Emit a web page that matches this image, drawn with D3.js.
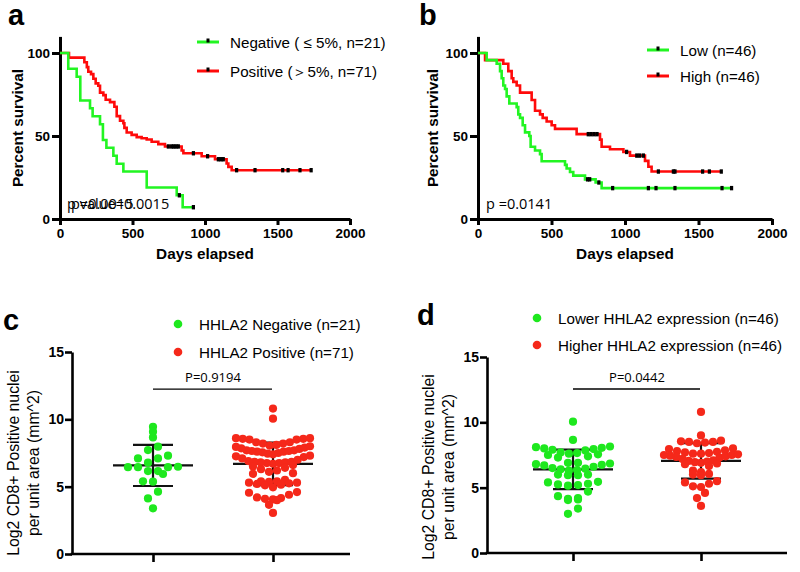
<!DOCTYPE html>
<html><head><meta charset="utf-8">
<script src="https://cdn.jsdelivr.net/npm/d3@7"></script>
<style>body{margin:0;background:#fff} svg{display:block}</style>
</head><body><svg id="c" width="800" height="572"></svg>
<script>
// ---------- data ----------
const dayTicks = [0, 500, 1000, 1500, 2000];
const survTicks = [0, 50, 100];
const cd8Ticks = [0, 5, 10, 15];

const kmLegendA = ["Negative ( \u2264 5%, n=21)", "Positive (\uFF1E5%, n=71)"];
const kmLegendB = ["Low (n=46)", "High (n=46)"];
const pTextA = ["p value=0.0015", "p=0.0015"];
const pTextB = ["p =0.0141"];

// [day, survival % after event]
const aNegSteps = [[0,100],[57,90.5],[115,85.7],[140,71.4],[207,66.7],[225,61.9],[276,57.1],[296,47.6],[320,42.9],[368,38.1],[391,33.3],[437,28.6],[598,19.0],[805,14.3],[846,7.1]];
const aNegCensor = [[823,14.3],[920,7.1]];
const aPosSteps = [[0,100],[62,97.2],[168,94.4],[185,91.5],[195,88.7],[214,87.3],[230,84.5],[246,81.7],[264,80.3],[276,76.1],[299,74.6],[315,71.8],[345,70.4],[375,67.6],[391,62.0],[414,59.2],[437,57.7],[444,54.9],[460,52.1],[494,50.7],[529,49.3],[563,48.6],[598,47.9],[632,46.5],[678,45.1],[724,43.7],[839,41.3],[851,39.6],[977,37.8],[1069,36.0],[1149,33.4],[1161,31.4],[1184,29.4]];
const aPosCensor = [[747,43.7],[770,43.7],[785,43.7],[800,43.7],[816,43.7],[920,39.6],[1018,37.8],[1092,36.0],[1110,36.0],[1126,36.0],[1218,29.4],[1345,29.4],[1536,29.4],[1573,29.4],[1655,29.4],[1732,29.4]];

const bLowSteps = [[0,100],[59,95.7],[127,93.5],[150,89.1],[161,84.8],[172,80.4],[184,78.3],[195,73.9],[213,69.6],[263,67.4],[274,63.0],[286,60.9],[304,56.5],[320,52.2],[349,50.0],[358,43.5],[388,41.3],[422,39.1],[433,34.8],[592,32.6],[603,30.4],[626,28.3],[648,26.1],[728,23.9],[800,22.0],[841,18.6]];
const bLowCensor = [[745,23.9],[760,23.9],[822,22.0],[916,18.6],[1159,18.6],[1211,18.6],[1340,18.6],[1660,18.6],[1725,18.6]];
const bHighSteps = [[0,100],[48,95.7],[172,93.5],[206,89.1],[229,84.8],[240,82.6],[263,80.4],[286,76.1],[365,71.7],[388,65.2],[422,63.0],[440,60.9],[467,58.7],[501,56.5],[524,54.3],[671,51.1],[830,47.8],[841,43.5],[898,42.0],[989,40.4],[1034,38.2],[1136,35.0],[1159,31.5],[1181,28.6]];
const bHighCensor = [[750,51.1],[770,51.1],[790,51.1],[810,51.1],[1011,40.4],[1080,38.2],[1100,38.2],[1125,38.2],[1227,28.6],[1329,28.6],[1340,28.6],[1528,28.6],[1574,28.6],[1655,28.6]];

// CD8 log2 values
const cCats = ["HHLA2 Negative (n=21)", "HHLA2 Positive (n=71)"];
const cNeg = [9.45,8.66,9.08,7.72,7.97,7.1,7.1,7.3,6.48,6.45,6.16,5.94,6.16,6.45,6.45,6.78,5.37,5.4,4.63,4.13,3.39];
const cPos = [10.8,10.05,8.6,8.6,8.55,8.55,8.5,8.5,8.3,8.3,8.2,8.2,8.05,8.0,7.95,7.9,7.85,8.1,7.8,
  7.7,7.7,7.65,7.65,7.6,7.6,7.55,7.5,7.45,7.4,7.3,7.25,7.2,7.1,7.0,
  6.9,6.85,6.85,6.8,6.8,6.75,6.75,6.7,6.6,6.5,6.4,6.3,6.2,6.1,6.0,5.95,
  5.5,5.4,5.4,5.35,5.3,5.3,5.25,5.2,5.15,5.1,4.95,
  4.6,4.55,4.4,4.2,4.15,4.1,4.05,4.0,3.65,3.05];
const pTextC = "P=0.9194";

const dCats = ["Lower HHLA2 expression (n=46)", "Higher HHLA2 expression (n=46)"];
const dLow = [10.05,8.65,8.15,8.1,8.05,8.0,7.95,7.9,7.85,7.7,7.65,7.6,7.55,7.5,7.4,7.3,
  6.9,6.9,6.85,6.8,6.75,6.7,6.6,6.5,6.45,6.4,6.35,6.3,6.0,5.95,5.95,6.0,
  5.45,5.4,5.3,5.25,5.2,5.15,4.7,4.35,4.2,4.15,4.1,4.05,3.4,3.0];
const dHigh = [10.8,9.0,8.6,8.55,8.5,8.5,8.45,8.4,8.0,7.95,7.85,7.8,7.75,7.7,7.65,7.6,7.6,7.55,
  7.5,7.5,7.45,7.4,7.35,7.3,7.2,7.1,7.05,7.0,6.95,6.9,6.85,6.8,6.65,
  6.3,6.2,6.05,6.0,5.95,5.5,5.4,5.3,5.1,5.05,4.6,4.2,3.6];
const pTextD = "P=0.0442";

// ---------- drawing ----------
const GREEN = "#22f522", RED = "#ff0a0a";
const DOT_G = "#1ee81e", DOT_R = "#f5281a";
const svg = d3.select("#c");
const SANS = "'Liberation Sans', Arial, sans-serif";
const PFONT = "'Open Sans', sans-serif";

function panelLabel(t, x, y) {
  svg.append("text").attr("x", x).attr("y", y).text(t)
    .attr("font-family", SANS).attr("font-weight", "bold").attr("font-size", 29);
}

function styleAxis(sel, w, fs) {
  sel.selectAll("path,line").attr("stroke", "#000").attr("stroke-width", w);
  sel.selectAll("text").attr("font-family", SANS).attr("font-weight", "bold")
    .attr("font-size", fs).attr("fill", "#000");
}

function drawKM(cfg) {
  const g = svg.append("g");
  const x = d3.scaleLinear().domain([0, 2000]).range([cfg.x0, cfg.x1]);
  const y = d3.scaleLinear().domain([0, 110]).range([219, 219 - 110 * 1.66]);
  const ax = g.append("g").attr("transform", "translate(0,219)")
    .call(d3.axisBottom(x).tickValues(dayTicks).tickSize(6).tickSizeOuter(0).tickPadding(3).tickFormat(d3.format("d")));
  styleAxis(ax, 3, 13.5);
  const ay = g.append("g").attr("transform", `translate(${cfg.x0},0)`)
    .call(d3.axisLeft(y).tickValues(survTicks).tickSize(8).tickSizeOuter(0).tickPadding(2));
  styleAxis(ay, 3, 13.5);

  const line = d3.line().x(d => x(d[0])).y(d => y(d[1])).curve(d3.curveStepAfter);
  // series[0] = green (legend first), series[1] = red; draw red underneath
  const drawOrder = [cfg.series[1], cfg.series[0]];
  drawOrder.forEach(s => {
    const end = d3.max(s.censor, d => d[0]);
    const pts = s.steps.concat([[end, s.steps[s.steps.length - 1][1]]]);
    g.append("path").attr("d", line(pts)).attr("fill", "none")
      .attr("stroke", s.color).attr("stroke-width", 2.6);
  });
  drawOrder.forEach(s => {
    g.selectAll(null).data(s.censor).join("rect")
      .attr("x", d => x(d[0]) - 1.6).attr("y", d => y(d[1]) - 2.2)
      .attr("width", 3.2).attr("height", 4.4).attr("fill", "#000");
  });
  // legend
  cfg.legend.forEach((t, i) => {
    const ly = cfg.legY[i];
    g.append("line").attr("x1", cfg.legX).attr("x2", cfg.legX + 22).attr("y1", ly).attr("y2", ly)
      .attr("stroke", cfg.series[i].color).attr("stroke-width", 3);
    g.append("rect").attr("x", cfg.legX + 9.5).attr("y", ly - 3.5).attr("width", 3).attr("height", 4).attr("fill", "#000");
    g.append("text").attr("x", cfg.legX + 33).attr("y", ly + 5.5).text(t)
      .attr("font-family", SANS).attr("font-size", 15.2);
  });
  g.append("text").attr("transform", `translate(${cfg.ylabX},128) rotate(-90)`)
    .attr("text-anchor", "middle").text("Percent survival")
    .attr("font-family", SANS).attr("font-weight", "bold").attr("font-size", 15.3);
  g.append("text").attr("x", x(1000)).attr("y", 259).attr("text-anchor", "middle").text("Days elapsed")
    .attr("font-family", SANS).attr("font-weight", "bold").attr("font-size", 15.3);
  cfg.ptexts.forEach((t, i) => {
    g.append("text").attr("x", cfg.pX + i * 4).attr("y", 209).text(t)
      .attr("font-family", PFONT).attr("font-size", 14.5);
  });
}

function swarm(vals, cx, y, r, half, binPx, maxSp) {
  const y0 = y.range()[0];
  const pts = vals.map(v => ({ v, py: y(v) }));
  const bins = d3.group(pts, p => Math.floor((y0 - p.py) / binPx));
  const out = [];
  for (const [, arr] of bins) {
    arr.sort((a, b) => a.v - b.v);
    const n = arr.length;
    const s = n > 1 ? Math.min(maxSp, 2 * half / (n - 1)) : 0;
    const slots = d3.range(n).map(i => (i - (n - 1) / 2) * s)
      .sort((a, b) => Math.abs(a) - Math.abs(b) || a - b);
    arr.forEach((p, i) => out.push({ v: p.v, px: cx + slots[i], py: p.py }));
  }
  return out;
}

function drawScatter(cfg) {
  const g = svg.append("g");
  const y = d3.scaleLinear().domain([0, 15]).range([cfg.yb, cfg.yt]);
  const x = d3.scalePoint().domain(cfg.cats).range([cfg.c0, cfg.c1]);
  const ay = g.append("g").attr("transform", `translate(${cfg.ax},0)`)
    .call(d3.axisLeft(y).tickValues(cd8Ticks).tickSize(7).tickSizeOuter(0).tickPadding(1));
  styleAxis(ay, 2.6, 14);
  const ax = g.append("g").attr("transform", `translate(0,${cfg.yb})`)
    .call(d3.axisBottom(x).tickSize(8).tickSizeOuter(0).tickFormat(""));
  ax.select(".domain").remove();
  styleAxis(ax, 2.6, 14);
  g.append("line").attr("x1", cfg.ax - 1.3).attr("x2", cfg.axEnd).attr("y1", cfg.yb).attr("y2", cfg.yb)
    .attr("stroke", "#000").attr("stroke-width", 2.6);

  const groups = [cfg.g1, cfg.g2];
  const cols = [DOT_G, DOT_R];
  groups.forEach((vals, i) => {
    const cx = x(cfg.cats[i]);
    const m = d3.mean(vals), sd = d3.deviation(vals);
    const eb = g.append("g").attr("stroke", "#111").attr("stroke-width", 2.2);
    eb.append("line").attr("x1", cx - 40).attr("x2", cx + 40).attr("y1", y(m)).attr("y2", y(m));
    eb.append("line").attr("x1", cx - 20).attr("x2", cx + 20).attr("y1", y(m + sd)).attr("y2", y(m + sd));
    eb.append("line").attr("x1", cx - 20).attr("x2", cx + 20).attr("y1", y(m - sd)).attr("y2", y(m - sd));
    eb.append("line").attr("x1", cx).attr("x2", cx).attr("y1", y(m - sd)).attr("y2", y(m + sd));
  });
  groups.forEach((vals, i) => {
    const cx = x(cfg.cats[i]);
    const pts = swarm(vals, cx, y, 4, 37, 9, i === 0 ? 10 : 8);
    g.selectAll(null).data(pts).join("circle")
      .attr("cx", d => d.px).attr("cy", d => d.py).attr("r", 4.1).attr("fill", cols[i]);
  });
  // significance bar
  const by = y(cfg.barV);
  g.append("line").attr("x1", x(cfg.cats[0])).attr("x2", x(cfg.cats[1]) - 1).attr("y1", by).attr("y2", by)
    .attr("stroke", "#000").attr("stroke-width", 1.3);
  g.append("text").attr("x", (x(cfg.cats[0]) + x(cfg.cats[1])) / 2).attr("y", by - 7)
    .attr("text-anchor", "middle").text(cfg.ptext).attr("font-family", PFONT).attr("font-size", 13);
  // legend
  cfg.cats.forEach((t, i) => {
    g.append("circle").attr("cx", cfg.legX).attr("cy", cfg.legY[i]).attr("r", 4.3).attr("fill", cols[i]);
    g.append("text").attr("x", cfg.legX + 21).attr("y", cfg.legY[i] + 6).text(t)
      .attr("font-family", SANS).attr("font-size", 15.2);
  });
  // y label
  const yl = g.append("text").attr("text-anchor", "middle")
    .attr("transform", `translate(${cfg.ylabX},${cfg.ylabY}) rotate(-90)`)
    .attr("font-family", SANS).attr("font-size", 15.8);
  yl.append("tspan").attr("x", 0).attr("y", 0).text("Log2 CD8+ Positive nuclei");
  yl.append("tspan").attr("x", 0).attr("y", 19.5).text("per unit area (mm^2)");
}

drawKM({
  x0: 60, x1: 350, ylabX: 23, pX: 67, ptexts: pTextA,
  legend: kmLegendA, legX: 197, legY: [42, 71],
  series: [
    { steps: aNegSteps, censor: aNegCensor, color: GREEN },
    { steps: aPosSteps, censor: aPosCensor, color: RED }
  ]
});
drawKM({
  x0: 478, x1: 772, ylabX: 438, pX: 486, ptexts: pTextB,
  legend: kmLegendB, legX: 647, legY: [50, 76],
  series: [
    { steps: bLowSteps, censor: bLowCensor, color: GREEN },
    { steps: bHighSteps, censor: bHighCensor, color: RED }
  ]
});
drawScatter({
  yb: 554, yt: 352, ax: 72, axEnd: 350, c0: 153, c1: 273,
  cats: cCats, g1: cNeg, g2: cPos, barV: 12.25, ptext: pTextC,
  legX: 178, legY: [324, 352], ylabX: 19, ylabY: 463
});
drawScatter({
  yb: 553, yt: 357, ax: 487, axEnd: 787, c0: 573, c1: 701,
  cats: dCats, g1: dLow, g2: dHigh, barV: 12.55, ptext: pTextD,
  legX: 537, legY: [318, 345], ylabX: 434, ylabY: 467
});
panelLabel("a", 8, 25);
panelLabel("b", 419, 25);
panelLabel("c", 3, 330);
panelLabel("d", 417, 325);
</script></body></html>
